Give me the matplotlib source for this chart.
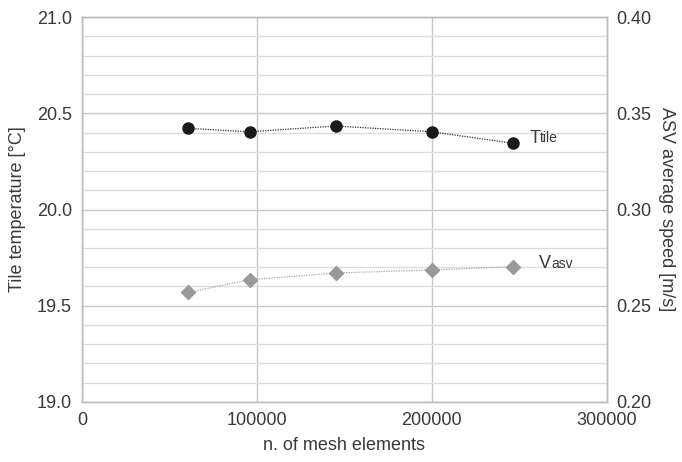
import matplotlib
matplotlib.use("Agg")
import matplotlib.pyplot as plt
from matplotlib.ticker import MultipleLocator

plt.rcParams['font.family'] = ['Liberation Sans', 'DejaVu Sans']

mesh_elements = [60500, 95800, 145000, 200000, 246500]
t_tile = [20.422, 20.404, 20.434, 20.404, 20.344]
v_asv = [0.2569, 0.2635, 0.2670, 0.2686, 0.2703]

x_ticks = [0, 100000, 200000, 300000]
x_ticklabels = ['0', '100000', '200000', '300000']
y_left_ticks = [19.0, 19.5, 20.0, 20.5, 21.0]
y_right_ticks = [0.20, 0.25, 0.30, 0.35, 0.40]

text_col = '#3a3a3a'
grid_minor = '#dcdcdc'
grid_major = '#c8c8c8'

fig = plt.figure(figsize=(6.82, 4.62), dpi=100)
ax = fig.add_axes([0.120, 0.130, 0.770, 0.833])
ax2 = ax.twinx()

ax.set_xlim(0, 300000)
ax.set_ylim(19.0, 21.0)
ax2.set_ylim(0.20, 0.40)

ax.set_xticks(x_ticks)
ax.set_xticklabels(x_ticklabels)
ax.set_yticks(y_left_ticks)
ax.set_yticklabels([f'{v:.1f}' for v in y_left_ticks])
ax.yaxis.set_minor_locator(MultipleLocator(0.1))
ax2.set_yticks(y_right_ticks)
ax2.set_yticklabels([f'{v:.2f}' for v in y_right_ticks])

ax.grid(True, which='major', axis='both', color=grid_major, lw=1.0)
ax.grid(True, which='minor', axis='y', color=grid_minor, lw=1.0)
ax.set_axisbelow(True)

for a in (ax, ax2):
    a.tick_params(which='both', length=0, labelsize=13, labelcolor=text_col, pad=7)
    for s in a.spines.values():
        s.set_color('#bdbdbd')
        s.set_linewidth(1.0)

ax.set_xlabel('n. of mesh elements', fontsize=13, color=text_col, labelpad=6)
ax.set_ylabel('Tile temperature [°C]', fontsize=13, color=text_col, labelpad=8)
ax2.set_ylabel('ASV average speed [m/s]', fontsize=13, color=text_col,
               rotation=-90, labelpad=17)

ax.plot(mesh_elements, t_tile, linestyle=(0, (1, 1)), color='#333333', lw=0.9,
        marker='o', ms=8, mfc='#1a1a1a', mec='#1a1a1a', zorder=5)
ax2.plot(mesh_elements, v_asv, linestyle=(0, (1, 1)), color='#a8a8a8', lw=0.9,
         marker='D', ms=7, mfc='#999999', mec='#999999', zorder=5)

t1 = ax.text(255700, 20.37, 'T', fontsize=13, color=text_col, va='center', ha='left')
ax.annotate('tile', xy=(1, 0.1), xycoords=t1, fontsize=10, color=text_col,
            va='bottom', ha='left')
t2 = ax2.text(261400, 0.2718, 'V', fontsize=13, color=text_col, va='center', ha='left')
ax2.annotate('asv', xy=(1, 0.1), xycoords=t2, fontsize=10, color=text_col,
             va='bottom', ha='left')

fig.savefig('out.png', dpi=100, facecolor='white')
